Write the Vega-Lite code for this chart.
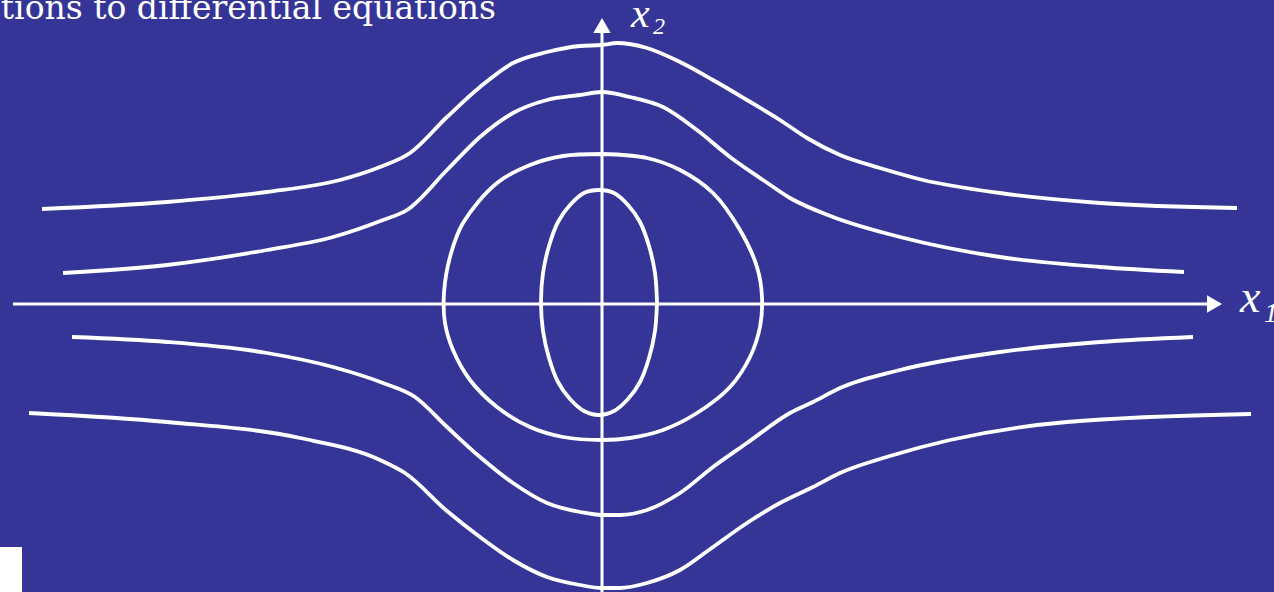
{
  "$schema": "https://vega.github.io/schema/vega-lite/v6.json",
  "autosize": {"type": "none"},
  "padding": 0,
  "width": 1274,
  "height": 592,
  "background": "#353597",
  "config": {"view": {"stroke": null}},
  "datasets": {
    "open": [
      {"curve": "A", "x": -560, "y": 95}, {"curve": "A", "x": -435, "y": 102}, {"curve": "A", "x": -335, "y": 112}, {"curve": "A", "x": -262, "y": 124}, {"curve": "A", "x": -222, "y": 137}, {"curve": "A", "x": -192, "y": 151}, {"curve": "A", "x": -155, "y": 187}, {"curve": "A", "x": -122, "y": 217}, {"curve": "A", "x": -89, "y": 241}, {"curve": "A", "x": -55, "y": 252}, {"curve": "A", "x": -22, "y": 258}, {"curve": "A", "x": 0, "y": 259}, {"curve": "A", "x": 15, "y": 261}, {"curve": "A", "x": 45, "y": 256}, {"curve": "A", "x": 78, "y": 242}, {"curve": "A", "x": 111, "y": 224}, {"curve": "A", "x": 145, "y": 204}, {"curve": "A", "x": 178, "y": 184}, {"curve": "A", "x": 205, "y": 166}, {"curve": "A", "x": 238, "y": 149}, {"curve": "A", "x": 278, "y": 136}, {"curve": "A", "x": 321, "y": 124}, {"curve": "A", "x": 398, "y": 111}, {"curve": "A", "x": 498, "y": 101}, {"curve": "A", "x": 635, "y": 96},
      {"curve": "B", "x": -539, "y": 31}, {"curve": "B", "x": -435, "y": 39}, {"curve": "B", "x": -335, "y": 54}, {"curve": "B", "x": -269, "y": 67}, {"curve": "B", "x": -219, "y": 84}, {"curve": "B", "x": -195, "y": 94}, {"curve": "B", "x": -155, "y": 134}, {"curve": "B", "x": -122, "y": 167}, {"curve": "B", "x": -89, "y": 191}, {"curve": "B", "x": -55, "y": 204}, {"curve": "B", "x": -22, "y": 209}, {"curve": "B", "x": 0, "y": 212}, {"curve": "B", "x": 28, "y": 207}, {"curve": "B", "x": 61, "y": 197}, {"curve": "B", "x": 95, "y": 174}, {"curve": "B", "x": 128, "y": 147}, {"curve": "B", "x": 161, "y": 124}, {"curve": "B", "x": 188, "y": 106}, {"curve": "B", "x": 231, "y": 87}, {"curve": "B", "x": 298, "y": 67}, {"curve": "B", "x": 398, "y": 47}, {"curve": "B", "x": 498, "y": 37}, {"curve": "B", "x": 582, "y": 32},
      {"curve": "C", "x": -530, "y": -33}, {"curve": "C", "x": -435, "y": -38}, {"curve": "C", "x": -335, "y": -49}, {"curve": "C", "x": -269, "y": -63}, {"curve": "C", "x": -219, "y": -79}, {"curve": "C", "x": -187, "y": -93}, {"curve": "C", "x": -155, "y": -123}, {"curve": "C", "x": -122, "y": -153}, {"curve": "C", "x": -89, "y": -179}, {"curve": "C", "x": -55, "y": -199}, {"curve": "C", "x": -22, "y": -208}, {"curve": "C", "x": 0, "y": -211}, {"curve": "C", "x": 18, "y": -211}, {"curve": "C", "x": 45, "y": -206}, {"curve": "C", "x": 78, "y": -189}, {"curve": "C", "x": 111, "y": -163}, {"curve": "C", "x": 145, "y": -139}, {"curve": "C", "x": 188, "y": -109}, {"curve": "C", "x": 211, "y": -98}, {"curve": "C", "x": 238, "y": -84}, {"curve": "C", "x": 298, "y": -66}, {"curve": "C", "x": 398, "y": -48}, {"curve": "C", "x": 498, "y": -38}, {"curve": "C", "x": 591, "y": -33},
      {"curve": "D", "x": -573, "y": -109}, {"curve": "D", "x": -435, "y": -118}, {"curve": "D", "x": -302, "y": -134}, {"curve": "D", "x": -222, "y": -156}, {"curve": "D", "x": -197, "y": -169}, {"curve": "D", "x": -155, "y": -207}, {"curve": "D", "x": -122, "y": -233}, {"curve": "D", "x": -89, "y": -256}, {"curve": "D", "x": -55, "y": -273}, {"curve": "D", "x": -22, "y": -281}, {"curve": "D", "x": 0, "y": -284}, {"curve": "D", "x": 18, "y": -284}, {"curve": "D", "x": 45, "y": -279}, {"curve": "D", "x": 78, "y": -266}, {"curve": "D", "x": 111, "y": -243}, {"curve": "D", "x": 145, "y": -219}, {"curve": "D", "x": 178, "y": -199}, {"curve": "D", "x": 211, "y": -183}, {"curve": "D", "x": 238, "y": -169}, {"curve": "D", "x": 288, "y": -152}, {"curve": "D", "x": 348, "y": -136}, {"curve": "D", "x": 465, "y": -118}, {"curve": "D", "x": 649, "y": -110}
    ],
    "closed": [
      {"curve": "E", "x": 0, "y": 150}, {"curve": "E", "x": 45, "y": 146}, {"curve": "E", "x": 78, "y": 134}, {"curve": "E", "x": 111, "y": 111}, {"curve": "E", "x": 138, "y": 74}, {"curve": "E", "x": 155, "y": 37}, {"curve": "E", "x": 160, "y": 7}, {"curve": "E", "x": 158, "y": -23}, {"curve": "E", "x": 148, "y": -53}, {"curve": "E", "x": 128, "y": -83}, {"curve": "E", "x": 95, "y": -109}, {"curve": "E", "x": 61, "y": -126}, {"curve": "E", "x": 28, "y": -134}, {"curve": "E", "x": 0, "y": -136}, {"curve": "E", "x": -39, "y": -133}, {"curve": "E", "x": -72, "y": -123}, {"curve": "E", "x": -105, "y": -103}, {"curve": "E", "x": -132, "y": -76}, {"curve": "E", "x": -149, "y": -46}, {"curve": "E", "x": -157, "y": -19}, {"curve": "E", "x": -158, "y": 11}, {"curve": "E", "x": -152, "y": 47}, {"curve": "E", "x": -139, "y": 81}, {"curve": "E", "x": -105, "y": 121}, {"curve": "E", "x": -72, "y": 139}, {"curve": "E", "x": -39, "y": 148}, {"curve": "E", "x": 0, "y": 150},
      {"curve": "F", "x": 55, "y": 2}, {"curve": "F", "x": 53, "y": 31}, {"curve": "F", "x": 47, "y": 58}, {"curve": "F", "x": 38, "y": 82}, {"curve": "F", "x": 26, "y": 99}, {"curve": "F", "x": 12, "y": 111}, {"curve": "F", "x": -3, "y": 114}, {"curve": "F", "x": -18, "y": 111}, {"curve": "F", "x": -32, "y": 99}, {"curve": "F", "x": -44, "y": 82}, {"curve": "F", "x": -53, "y": 58}, {"curve": "F", "x": -59, "y": 31}, {"curve": "F", "x": -61, "y": 2}, {"curve": "F", "x": -59, "y": -27}, {"curve": "F", "x": -53, "y": -54}, {"curve": "F", "x": -44, "y": -78}, {"curve": "F", "x": -32, "y": -95}, {"curve": "F", "x": -18, "y": -107}, {"curve": "F", "x": -3, "y": -111}, {"curve": "F", "x": 12, "y": -107}, {"curve": "F", "x": 26, "y": -95}, {"curve": "F", "x": 38, "y": -78}, {"curve": "F", "x": 47, "y": -54}, {"curve": "F", "x": 53, "y": -27}, {"curve": "F", "x": 55, "y": 2}
    ]
  },
  "layer": [
    {
      "data": {"values": [{"x": -602, "x2": -580, "y": -243, "y2": -288}]},
      "mark": {"type": "rect", "color": "white"},
      "encoding": {
        "x": {"field": "x", "type": "quantitative", "scale": {"domain": [-602, 672]}, "axis": null},
        "x2": {"field": "x2"},
        "y": {"field": "y", "type": "quantitative", "scale": {"domain": [-288, 304]}, "axis": null},
        "y2": {"field": "y2"}
      }
    },
    {
      "data": {"values": [{"x": -589, "y": 0, "x2": 606, "y2": 0}, {"x": 0, "y": -290, "x2": 0, "y2": 272}]},
      "mark": {"type": "rule", "color": "white", "strokeWidth": 3},
      "encoding": {
        "x": {"field": "x", "type": "quantitative", "scale": {"domain": [-602, 672]}, "axis": null},
        "x2": {"field": "x2"},
        "y": {"field": "y", "type": "quantitative", "scale": {"domain": [-288, 304]}, "axis": null},
        "y2": {"field": "y2"}
      }
    },
    {
      "data": {"name": "open"},
      "mark": {"type": "line", "color": "white", "strokeWidth": 3.8, "strokeJoin": "round", "interpolate": "monotone", "clip": false},
      "encoding": {
        "x": {"field": "x", "type": "quantitative", "scale": {"domain": [-602, 672]}, "axis": null},
        "y": {"field": "y", "type": "quantitative", "scale": {"domain": [-288, 304]}, "axis": null},
        "detail": {"field": "curve", "type": "nominal"},
        "order": {"value": null}
      }
    },
    {
      "data": {"name": "closed"},
      "mark": {"type": "line", "color": "white", "strokeWidth": 3.8, "strokeJoin": "round", "interpolate": "catmull-rom", "clip": false},
      "encoding": {
        "x": {"field": "x", "type": "quantitative", "scale": {"domain": [-602, 672]}, "axis": null},
        "y": {"field": "y", "type": "quantitative", "scale": {"domain": [-288, 304]}, "axis": null},
        "detail": {"field": "curve", "type": "nominal"},
        "order": {"value": null}
      }
    },
    {
      "data": {"values": [{"x": 612.5, "y": 0}]},
      "mark": {"type": "point", "shape": "triangle-right", "filled": true, "color": "white", "opacity": 1, "size": 300},
      "encoding": {
        "x": {"field": "x", "type": "quantitative", "scale": {"domain": [-602, 672]}, "axis": null},
        "y": {"field": "y", "type": "quantitative", "scale": {"domain": [-288, 304]}, "axis": null}
      }
    },
    {
      "data": {"values": [{"x": 0, "y": 278.5}]},
      "mark": {"type": "point", "shape": "triangle-up", "filled": true, "color": "white", "opacity": 1, "size": 300},
      "encoding": {
        "x": {"field": "x", "type": "quantitative", "scale": {"domain": [-602, 672]}, "axis": null},
        "y": {"field": "y", "type": "quantitative", "scale": {"domain": [-288, 304]}, "axis": null}
      }
    },
    {
      "data": {"values": [{"label": "x", "x": 29, "y": 277}]},
      "mark": {"type": "text", "color": "white", "font": "Liberation Serif", "fontStyle": "italic", "fontSize": 42, "align": "left", "baseline": "alphabetic"},
      "encoding": {
        "x": {"field": "x", "type": "quantitative", "scale": {"domain": [-602, 672]}, "axis": null},
        "y": {"field": "y", "type": "quantitative", "scale": {"domain": [-288, 304]}, "axis": null},
        "text": {"field": "label"}
      }
    },
    {
      "data": {"values": [{"label": "2", "x": 51, "y": 270}]},
      "mark": {"type": "text", "color": "white", "font": "Liberation Serif", "fontStyle": "italic", "fontSize": 24, "align": "left", "baseline": "alphabetic"},
      "encoding": {
        "x": {"field": "x", "type": "quantitative", "scale": {"domain": [-602, 672]}, "axis": null},
        "y": {"field": "y", "type": "quantitative", "scale": {"domain": [-288, 304]}, "axis": null},
        "text": {"field": "label"}
      }
    },
    {
      "data": {"values": [{"label": "x", "x": 638, "y": -8}]},
      "mark": {"type": "text", "color": "white", "font": "Liberation Serif", "fontStyle": "italic", "fontSize": 46, "align": "left", "baseline": "alphabetic"},
      "encoding": {
        "x": {"field": "x", "type": "quantitative", "scale": {"domain": [-602, 672]}, "axis": null},
        "y": {"field": "y", "type": "quantitative", "scale": {"domain": [-288, 304]}, "axis": null},
        "text": {"field": "label"}
      }
    },
    {
      "data": {"values": [{"label": "1", "x": 662, "y": -18}]},
      "mark": {"type": "text", "color": "white", "font": "Liberation Serif", "fontStyle": "italic", "fontSize": 28, "align": "left", "baseline": "alphabetic"},
      "encoding": {
        "x": {"field": "x", "type": "quantitative", "scale": {"domain": [-602, 672]}, "axis": null},
        "y": {"field": "y", "type": "quantitative", "scale": {"domain": [-288, 304]}, "axis": null},
        "text": {"field": "label"}
      }
    },
    {
      "data": {"values": [{"label": "tions to differential equations", "x": -106, "y": 285}]},
      "mark": {"type": "text", "color": "white", "font": "DejaVu Serif", "fontSize": 33, "align": "right", "baseline": "alphabetic"},
      "encoding": {
        "x": {"field": "x", "type": "quantitative", "scale": {"domain": [-602, 672]}, "axis": null},
        "y": {"field": "y", "type": "quantitative", "scale": {"domain": [-288, 304]}, "axis": null},
        "text": {"field": "label"}
      }
    }
  ]
}
